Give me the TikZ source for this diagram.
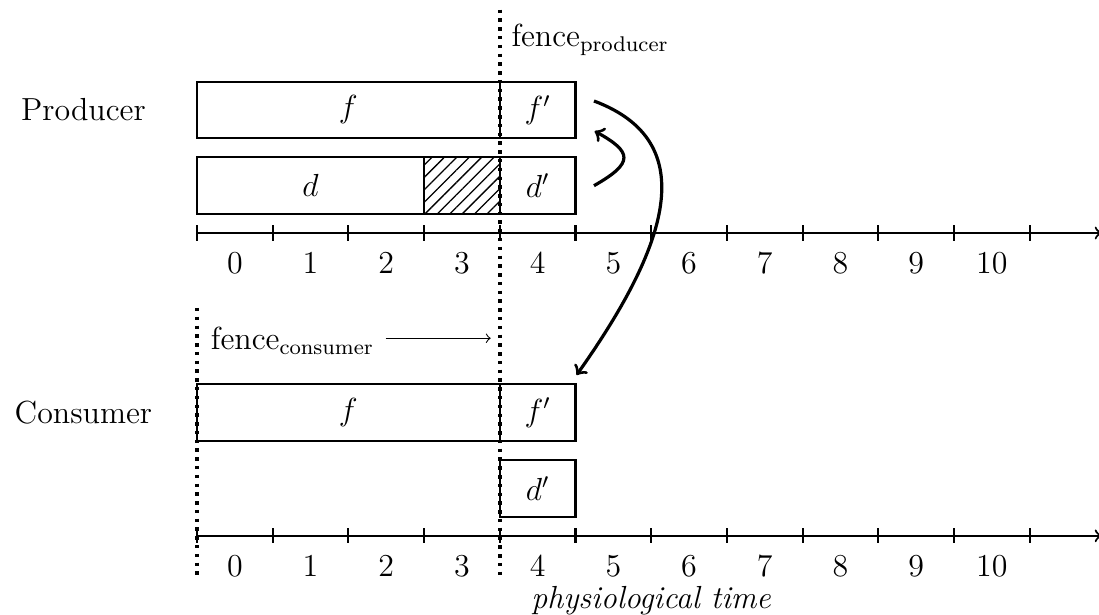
\documentclass[tikz,border=0pt,12pt]{standalone}
\usepackage{amsmath, amssymb}
\usepackage{tikz}
\usetikzlibrary{positioning, patterns.meta}

\tikzset{
  slot/.style={draw, line width=0.8pt, minimum height=0.75cm, inner sep=0pt},
  fence/.style={line width=1.3pt, dotted},
  swap/.style={->, line width=1.2pt}
}

\begin{document}
\begin{tikzpicture}[>=to, line width=0.8pt]
    \useasboundingbox (-2.602,-5.033) rectangle (11.915,3.078);

    % producer
    \node (prod) at (-1.5,1.625) {Producer};
    \node[slot, minimum width=4cm] (pf) at (2,1.625) {$f$};
    \node[slot, minimum width=1cm] (pfp) at (4.5,1.625) {$f'$};
    \node[slot, minimum width=3cm] (pd) at (1.5,0.625) {$d$};
    \node[slot, minimum width=1cm, pattern={Lines[angle=45,distance=3.3pt,line width=0.5pt]}] (phatch) at (3.5,0.625) {};
    \node[slot, minimum width=1cm] (pdp) at (4.5,0.625) {$d'$};
    \draw[->] (0,0) -- (11.95,0);
    \foreach \x in {0,...,11}
        \draw (\x,0.1) -- (\x,-0.1);
    \foreach \n in {0,...,10}
        \node (pl\n) at (\n+0.5,-0.4) {$\n$};

    % consumer
    \node (cons) at (-1.5,-2.375) {Consumer};
    \node[slot, minimum width=4cm] (cf) at (2,-2.375) {$f$};
    \node[slot, minimum width=1cm] (cfp) at (4.5,-2.375) {$f'$};
    \node[slot, minimum width=1cm] (cdp) at (4.5,-3.375) {$d'$};
    \draw[->] (0,-4) -- (11.95,-4);
    \foreach \x in {0,...,11}
        \draw (\x,-3.9) -- (\x,-4.1);
    \foreach \n in {0,...,10}
        \node (cl\n) at (\n+0.5,-4.4) {$\n$};
    \node (ptime) at (6.0,-4.85) {\textit{physiological time}};

    % fences
    \draw[fence] (4,2.95) -- (4,-4.55);
    \draw[fence] (0,-0.99) -- (0,-4.55);
    \node[anchor=west] (fprod) at (4.0,2.55) {fence$_\mathrm{producer}$};
    \node[anchor=west] (fcons) at (0.03,-1.42) {fence$_\mathrm{consumer}$};
    \coordinate (fcend) at (3.88,-1.39);
    \draw[->, line width=0.4pt] (fcons.east |- fcend) -- (fcend);

    % swaps
    \draw[swap] ([xshift=0.23cm]pdp.east) .. controls (5.78,0.93) and (5.75,1.07) .. ([shift={(0.24,0.11)}]pfp.south east);
    \draw[swap] ([shift={(0.23,-0.27)}]pfp.north east) .. controls (6.7,1.2) and (6.2,-0.2) .. ([yshift=0.11cm]cfp.north east);
\end{tikzpicture}
\end{document}
